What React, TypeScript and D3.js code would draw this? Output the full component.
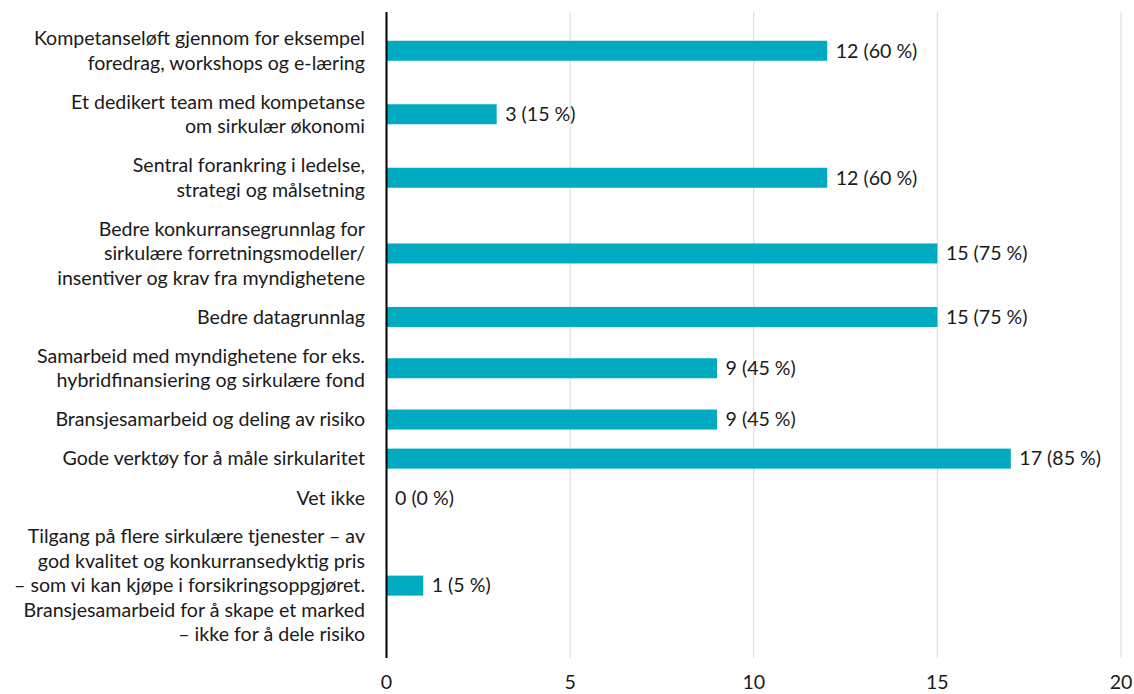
import * as d3 from 'd3';

const categories: string[][] = [
  ['Kompetanseløft gjennom for eksempel', 'foredrag, workshops og e-læring'],
  ['Et dedikert team med kompetanse', 'om sirkulær økonomi'],
  ['Sentral forankring i ledelse,', 'strategi og målsetning'],
  ['Bedre konkurransegrunnlag for', 'sirkulære forretningsmodeller/', 'insentiver og krav fra myndighetene'],
  ['Bedre datagrunnlag'],
  ['Samarbeid med myndighetene for eks.', 'hybridfinansiering og sirkulære fond'],
  ['Bransjesamarbeid og deling av risiko'],
  ['Gode verktøy for å måle sirkularitet'],
  ['Vet ikke'],
  [
    'Tilgang på flere sirkulære tjenester – av',
    'god kvalitet og konkurransedyktig pris',
    '– som vi kan kjøpe i forsikringsoppgjøret.',
    'Bransjesamarbeid for å skape et marked',
    '– ikke for å dele risiko',
  ],
];
const values = [12, 3, 12, 15, 15, 9, 9, 17, 0, 1];
const percents = [60, 15, 60, 75, 75, 45, 45, 85, 0, 5];
const ticks = [0, 5, 10, 15, 20];

const W = 1134;
const H = 694;
const FONT = 'Lato, "Open Sans", sans-serif';
const FS = 19.6;
const LINE = 24.5;
const BAR_COLOR = '#00abc1';

export default function App() {
  const x = d3.scaleLinear().domain([0, 20]).range([386.5, 1121]);

  // band sizes grow with the number of label lines
  const weights = categories.map((c) => c.length + 0.6);
  const cum = d3.cumsum(weights);
  const total = cum[cum.length - 1];
  const y = d3.scaleLinear().domain([0, total]).range([19, 654]);
  const centers = weights.map((w, i) => y(cum[i] - w / 2));

  const barH = 20;

  return (
    <svg
      width={W}
      height={H}
      style={{ position: 'absolute', left: 0, top: 0, background: '#fff' }}
      fontFamily={FONT}
    >
      {/* gridlines */}
      {ticks.slice(1).map((t) => (
        <line key={t} x1={x(t)} x2={x(t)} y1={12} y2={658} stroke="#d9d9d9" strokeWidth={1} />
      ))}

      {/* bars */}
      {values.map((v, i) => (
        <rect
          key={i}
          x={x(0)}
          y={centers[i] - barH / 2}
          width={x(v) - x(0)}
          height={barH}
          fill={BAR_COLOR}
        />
      ))}

      {/* value labels */}
      {values.map((v, i) => (
        <text
          key={i}
          x={x(v) + 8.5}
          y={centers[i]}
          dy="0.35em"
          fontSize={FS}
          fill="#1a1a1a"
        >
          {`${v} (${percents[i]} %)`}
        </text>
      ))}

      {/* category labels */}
      {categories.map((lines, i) => (
        <text key={i} x={365} textAnchor="end" fontSize={FS} fill="#1a1a1a">
          {lines.map((l, j) => (
            <tspan
              key={j}
              x={365}
              y={centers[i] + (j - (lines.length - 1) / 2) * LINE}
              dy="0.35em"
            >
              {l}
            </tspan>
          ))}
        </text>
      ))}

      {/* y axis line */}
      <line x1={x(0)} x2={x(0)} y1={12} y2={658} stroke="#000" strokeWidth={2} />

      {/* x tick labels */}
      {ticks.map((t) => (
        <text key={t} x={x(t)} y={689} textAnchor="middle" fontSize={FS} fill="#1a1a1a">
          {t}
        </text>
      ))}
    </svg>
  );
}
